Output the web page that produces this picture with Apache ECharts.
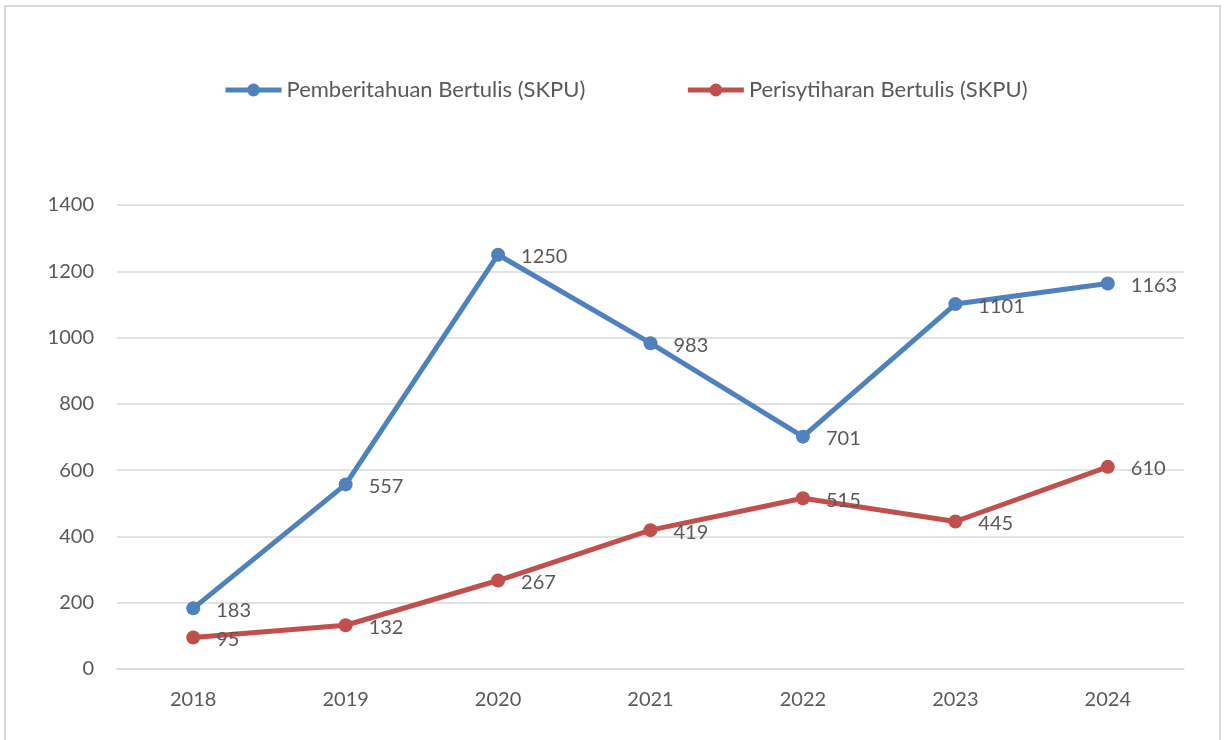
<!DOCTYPE html>
<html>
<head>
<meta charset="utf-8">
<script src="https://cdn.jsdelivr.net/npm/echarts@6/dist/echarts.min.js"></script>
<style>
  html, body { margin: 0; padding: 0; background: #fff; }
  #main { width: 1225px; height: 740px; }
</style>
</head>
<body>
<div id="main"></div>
<script>
// data
const years = ['2018', '2019', '2020', '2021', '2022', '2023', '2024'];
const pemberitahuan = [183, 557, 1250, 983, 701, 1101, 1163];
const perisytiharan = [95, 132, 267, 419, 515, 445, 610];

const fontFam = 'Lato, "Liberation Sans", sans-serif';
const txt = '#595959';

const labelCfg = {
  show: true,
  position: 'right',
  distance: 16,
  offset: [0, 2],
  color: txt,
  fontSize: 20,
  fontFamily: fontFam
};

const chart = echarts.init(document.getElementById('main'));
chart.setOption({
  animation: false,
  textStyle: { fontFamily: fontFam },
  graphic: [{
    type: 'rect',
    shape: { x: 5, y: 6, width: 1215, height: 760 },
    style: { fill: 'none', stroke: '#d9d9d9', lineWidth: 2 },
    silent: true
  }],
  legend: {
    top: 74,
    left: 218,
    itemGap: 100,
    itemWidth: 56,
    itemHeight: 16,
    lineStyle: { width: 5 },
    textStyle: { color: txt, fontSize: 22, fontFamily: fontFam }
  },
  grid: { left: 117, right: 41, top: 205, bottom: 71 },
  xAxis: {
    type: 'category',
    data: years,
    boundaryGap: true,
    axisLine: { lineStyle: { color: '#d9d9d9', width: 1.5 } },
    axisTick: { show: false },
    axisLabel: { color: txt, fontSize: 20, margin: 21, fontFamily: fontFam }
  },
  yAxis: {
    type: 'value',
    min: 0,
    max: 1400,
    interval: 200,
    axisLine: { show: false },
    axisTick: { show: false },
    splitLine: { lineStyle: { color: '#d9d9d9', width: 1.5 } },
    axisLabel: { color: txt, fontSize: 20, margin: 23, fontFamily: fontFam, formatter: v => String(v) }
  },
  series: [
    {
      name: 'Pemberitahuan Bertulis (SKPU)',
      type: 'line',
      data: pemberitahuan,
      symbol: 'circle',
      symbolSize: 14,
      color: '#4f81bd',
      lineStyle: { width: 5, color: '#4f81bd' },
      label: labelCfg
    },
    {
      name: 'Perisytiharan Bertulis (SKPU)',
      type: 'line',
      data: perisytiharan,
      symbol: 'circle',
      symbolSize: 14,
      color: '#c0504d',
      lineStyle: { width: 5, color: '#c0504d' },
      label: labelCfg
    }
  ]
});
</script>
</body>
</html>
